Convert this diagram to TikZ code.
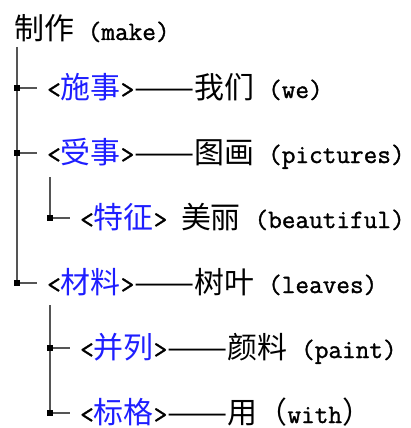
\documentclass[tikz,border=0pt]{standalone}
\usepackage{fontspec}
\setmonofont{Latin Modern Mono}[FakeBold=1.2]
\newfontfamily\cjk[Scale=1.13]{Noto Sans CJK SC}
\newfontfamily\cjkdash[Scale=1.13,FakeStretch=1.2]{Noto Sans CJK SC}
\newcommand{\rel}[1]{<{\cjk\color{relblue}#1}>}
\newcommand{\dsh}{{\cjkdash ——}}
\definecolor{relblue}{RGB}{30,30,255}
\definecolor{linegray}{RGB}{85,85,85}
\begin{document}
\begin{tikzpicture}[x=1pt,y=-1pt,
  lbl/.style={anchor=base west,inner sep=0pt,font=\ttfamily\fontsize{26.5}{30}\selectfont},
  sq/.style={rectangle,fill=black,inner sep=0pt,minimum size=6.5pt},
  ln/.style={draw=linegray,line width=1.3pt}]
\useasboundingbox (0,0) rectangle (410,428);
\node[lbl] (root) at (14,40) {{\cjk 制作} (make)};
\coordinate (top) at (17,47);
% level 1
\node[lbl] (t1) at (47,98) {\rel{施事}\dsh{\cjk 我们} (we)};
\node[lbl] (t2) at (47,163) {\rel{受事}\dsh{\cjk 图画} (pictures)};
\node[lbl] (t3) at (80,228) {\rel{特征} {\cjk 美丽} (beautiful)};
\node[lbl] (t4) at (47,293) {\rel{材料}\dsh{\cjk 树叶} (leaves)};
\node[lbl] (t5) at (80,358) {\rel{并列}\dsh{\cjk 颜料} (paint)};
\node[lbl] (t6) at (80,423) {\rel{标格}\dsh{\cjk 用（}with{\cjk ）}};
\node[sq] (s1) at (17,88) {};
\node[sq] (s2) at (17,153) {};
\node[sq] (s3) at (50,218) {};
\node[sq] (s4) at (17,283) {};
\node[sq] (s5) at (50,348) {};
\node[sq] (s6) at (50,413) {};
\coordinate (h1) at (37,88);
\coordinate (h2) at (37,153);
\coordinate (h3) at (70,218);
\coordinate (h4) at (37,283);
\coordinate (h5) at (70,348);
\coordinate (h6) at (70,413);
\coordinate (top3) at (50,177);
\coordinate (top5) at (50,305);
\draw[ln] (top) -- (s4.center);
\draw[ln] (top3) -- (s3.center);
\draw[ln] (top5) -- (s6.center);
\foreach \i in {1,...,6}{\draw[ln] (s\i.center) -- (h\i);}
\foreach \i in {1,...,6}{\node[sq] at (s\i) {};}
\end{tikzpicture}
\end{document}
